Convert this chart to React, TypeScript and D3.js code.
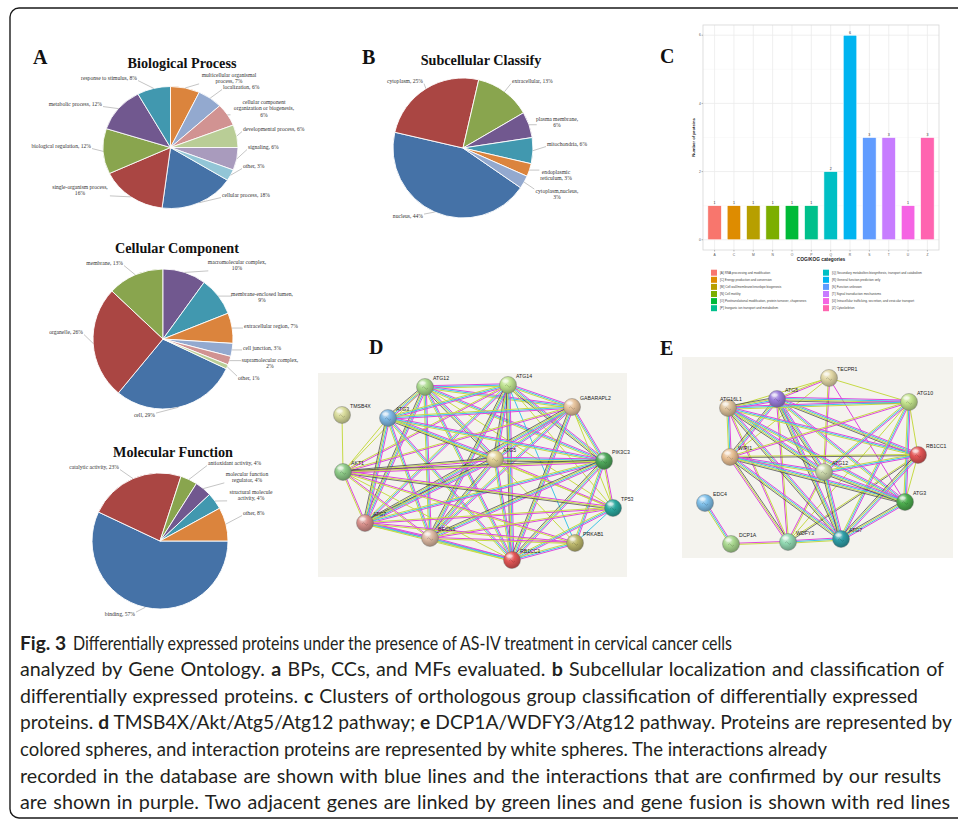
import React, { useLayoutEffect, useRef, useState } from 'react';
import * as d3 from 'd3';

const W = 958, H = 827;

// ================= Panel A / B : pie data =================
const excelColors = ["#4572A7", "#AA4643", "#89A54E", "#71588F", "#4198AF", "#DB843D", "#93A9CF", "#D19392", "#B9CD96", "#A99BBD", "#92C5D6"];

const bpValues = [18, 16, 12, 12, 8, 7, 6, 6, 6, 6, 3];
const bpLabels = [
  ["cellular process, 18%"],
  ["single-organism process,", "16%"],
  ["biological regulation, 12%"],
  ["metabolic process, 12%"],
  ["response to stimulus, 8%"],
  ["multicellular organismal", "process, 7%"],
  ["localization, 6%"],
  ["cellular component", "organization or biogenesis,", "6%"],
  ["developmental process, 6%"],
  ["signaling, 6%"],
  ["other, 3%"],
];

const ccValues = [29, 26, 13, 10, 9, 7, 3, 2, 1];
const ccLabels = [
  ["cell, 29%"],
  ["organelle, 26%"],
  ["membrane, 13%"],
  ["macromolecular complex,", "10%"],
  ["membrane-enclosed lumen,", "9%"],
  ["extracellular region, 7%"],
  ["cell junction, 3%"],
  ["supramolecular complex,", "2%"],
  ["other, 1%"],
];

const mfValues = [57, 23, 4, 4, 4, 8];
const mfLabels = [
  ["binding, 57%"],
  ["catalytic activity, 23%"],
  ["antioxidant activity, 4%"],
  ["molecular function", "regulator, 4%"],
  ["structural molecule", "activity, 4%"],
  ["other, 8%"],
];

const scValues = [44, 25, 13, 6, 6, 3, 3];
const scLabels = [
  ["nucleus, 44%"],
  ["cytoplasm, 25%"],
  ["extracellular, 13%"],
  ["plasma membrane,", "6%"],
  ["mitochondria, 6%"],
  ["endoplasmic", "reticulum, 3%"],
  ["cytoplasm,nucleus,", "3%"],
];

// ================= Panel C : COG/KOG =================
const cogCats = ["A", "C", "M", "N", "O", "P", "Q", "R", "S", "T", "U", "Z"];
const cogCounts = [1, 1, 1, 1, 1, 1, 2, 6, 3, 3, 1, 3];
const cogDesc = [
  "RNA processing and modification",
  "Energy production and conversion",
  "Cell wall/membrane/envelope biogenesis",
  "Cell motility",
  "Posttranslational modification, protein turnover, chaperones",
  "Inorganic ion transport and metabolism",
  "Secondary metabolites biosynthesis, transport and catabolism",
  "General function prediction only",
  "Function unknown",
  "Signal transduction mechanisms",
  "Intracellular trafficking, secretion, and vesicular transport",
  "Cytoskeleton",
];
const cogColors = ["#F8766D", "#DE8C00", "#B79F00", "#7CAE00", "#00BA38", "#00C08B", "#00BFC4", "#00B4F0", "#619CFF", "#C77CFF", "#F564E3", "#FF64B0"];
const cogYTicks = [0, 2, 4, 6];
const cogYMinor = [1, 3, 5];

// ================= Panel D / E : networks =================
const dNodes = ["ATG12", "ATG14", "GABARAPL2", "TMSB4X", "ATG3", "ATG5", "PIK3C3", "AKT1", "TP53", "ATG7", "BECN1", "PRKAB1", "RB1CC1"];
const dNodeX = [107, 190, 254, 24, 70, 177, 286, 25, 295, 47, 112, 257, 194];
const dNodeY = [14, 12, 34, 42, 45, 86, 88, 99, 135, 150, 165, 170, 187];
const dNodeColor = ["#A9D98C", "#BFE38F", "#E6C39C", "#D9DC9C", "#7DB7E3", "#E3D397", "#4FA85B", "#8ECB88", "#2BA89E", "#D9918C", "#DDB9A3", "#BDB86C", "#E35656"];
const dEdges: [string, string, string][] = [
  ["ATG12", "ATG14", "pcy"], ["ATG12", "GABARAPL2", "pcy"], ["ATG12", "ATG3", "pcyk"], ["ATG12", "ATG5", "pcyk"],
  ["ATG12", "PIK3C3", "pcy"], ["ATG12", "AKT1", "y"], ["ATG12", "ATG7", "pcyk"], ["ATG12", "BECN1", "pcy"],
  ["ATG12", "RB1CC1", "pcy"], ["ATG12", "TP53", "y"],
  ["ATG14", "GABARAPL2", "pcy"], ["ATG14", "ATG3", "pcy"], ["ATG14", "ATG5", "pcyk"], ["ATG14", "PIK3C3", "pcyk"],
  ["ATG14", "AKT1", "py"], ["ATG14", "ATG7", "pcy"], ["ATG14", "BECN1", "pcyk"], ["ATG14", "RB1CC1", "pcyk"],
  ["ATG14", "PRKAB1", "c"], ["ATG14", "TP53", "y"],
  ["GABARAPL2", "ATG3", "pcy"], ["GABARAPL2", "ATG5", "pcy"], ["GABARAPL2", "PIK3C3", "pcy"], ["GABARAPL2", "AKT1", "py"],
  ["GABARAPL2", "ATG7", "pcyk"], ["GABARAPL2", "BECN1", "pcy"], ["GABARAPL2", "RB1CC1", "pcyk"], ["GABARAPL2", "TP53", "y"],
  ["TMSB4X", "AKT1", "y"],
  ["ATG3", "ATG5", "pcyk"], ["ATG3", "PIK3C3", "pcy"], ["ATG3", "AKT1", "y"], ["ATG3", "ATG7", "pcyk"],
  ["ATG3", "BECN1", "pcy"], ["ATG3", "RB1CC1", "pcy"], ["ATG3", "TP53", "y"],
  ["ATG5", "PIK3C3", "pcyk"], ["ATG5", "AKT1", "pyk"], ["ATG5", "ATG7", "pcyk"], ["ATG5", "BECN1", "pcyk"],
  ["ATG5", "RB1CC1", "pcy"], ["ATG5", "TP53", "py"], ["ATG5", "PRKAB1", "y"],
  ["PIK3C3", "AKT1", "pyk"], ["PIK3C3", "TP53", "py"], ["PIK3C3", "ATG7", "pcy"], ["PIK3C3", "BECN1", "pcyk"],
  ["PIK3C3", "RB1CC1", "pcyk"], ["PIK3C3", "PRKAB1", "pcy"],
  ["AKT1", "ATG7", "py"], ["AKT1", "BECN1", "py"], ["AKT1", "TP53", "pyk"], ["AKT1", "RB1CC1", "y"], ["AKT1", "PRKAB1", "py"],
  ["TP53", "ATG7", "py"], ["TP53", "BECN1", "py"], ["TP53", "RB1CC1", "pcy"], ["TP53", "PRKAB1", "c"],
  ["ATG7", "BECN1", "pcy"], ["ATG7", "RB1CC1", "pcy"], ["ATG7", "PRKAB1", "py"],
  ["BECN1", "RB1CC1", "pcy"], ["BECN1", "PRKAB1", "py"],
  ["PRKAB1", "RB1CC1", "pcy"],
];

const eNodes = ["TECPR1", "ATG5", "ATG16L1", "ATG10", "WIPI1", "RB1CC1", "ATG12", "EDC4", "ATG3", "DCP1A", "WDFY3", "ATG7"];
const eNodeX = [147, 95, 46, 227, 48, 236, 142, 23, 223, 49, 106, 159];
const eNodeY = [21, 42, 51, 45, 100, 98, 115, 146, 145, 187, 185, 182];
const eNodeColor = ["#E2D8A6", "#9B7DDB", "#DDC19B", "#C3E38C", "#E9C094", "#E35656", "#C9D6A9", "#7FC0EA", "#4DAE4F", "#A9D88F", "#92D9B2", "#2F9FA8"];
const eEdges: [string, string, string][] = [
  ["EDC4", "DCP1A", "pcy"], ["DCP1A", "WDFY3", "py"],
  ["WDFY3", "ATG7", "pcy"], ["WDFY3", "ATG16L1", "py"], ["WDFY3", "ATG5", "py"], ["WDFY3", "WIPI1", "pyk"],
  ["WDFY3", "ATG12", "py"], ["WDFY3", "RB1CC1", "yk"], ["WDFY3", "ATG10", "y"],
  ["TECPR1", "ATG5", "py"], ["TECPR1", "ATG16L1", "y"], ["TECPR1", "ATG10", "y"], ["TECPR1", "ATG12", "py"],
  ["TECPR1", "ATG3", "p"], ["TECPR1", "WIPI1", "y"],
  ["ATG5", "ATG16L1", "pcyk"], ["ATG5", "ATG10", "pcyk"], ["ATG5", "RB1CC1", "pcyk"], ["ATG5", "WIPI1", "pcyk"],
  ["ATG5", "ATG12", "pcyk"], ["ATG5", "ATG3", "pcy"], ["ATG5", "ATG7", "pcyk"],
  ["ATG16L1", "WIPI1", "pcy"], ["ATG16L1", "ATG10", "pcy"], ["ATG16L1", "RB1CC1", "pcy"], ["ATG16L1", "ATG12", "pcyk"],
  ["ATG16L1", "ATG3", "pcy"], ["ATG16L1", "ATG7", "pcyk"],
  ["ATG10", "ATG12", "pcy"], ["ATG10", "ATG3", "pcy"], ["ATG10", "ATG7", "pcy"], ["ATG10", "RB1CC1", "y"], ["ATG10", "WIPI1", "py"],
  ["WIPI1", "RB1CC1", "yk"], ["WIPI1", "ATG12", "pcy"], ["WIPI1", "ATG3", "pcyk"], ["WIPI1", "ATG7", "pcyk"],
  ["RB1CC1", "ATG12", "pcy"], ["RB1CC1", "ATG3", "y"], ["RB1CC1", "ATG7", "pcyk"],
  ["ATG12", "ATG3", "pcyk"], ["ATG12", "ATG7", "pcyk"], ["ATG3", "ATG7", "pcyk"],
];

// ================= Caption =================
const captionHead = "Fig. 3";
const captionLines = [
  "Differentially expressed proteins under the presence of AS-IV treatment in cervical cancer cells",
  "analyzed by Gene Ontology. **a** BPs, CCs, and MFs evaluated. **b** Subcellular localization and classification of",
  "differentially expressed proteins. **c** Clusters of orthologous group classification of differentially expressed",
  "proteins. **d** TMSB4X/Akt/Atg5/Atg12 pathway; **e** DCP1A/WDFY3/Atg12 pathway. Proteins are represented by",
  "colored spheres, and interaction proteins are represented by white spheres. The interactions already",
  "recorded in the database are shown with blue lines and the interactions that are confirmed by our results",
  "are shown in purple. Two adjacent genes are linked by green lines and gene fusion is shown with red lines",
];
const captionStarts = [73, 20, 20, 20, 20, 20, 20];
const captionEnds = [732, 944, 918, 952, 827, 941, 950];

// ================= Layout (not data) =================
type LP = [number, number, string];
const pieLayouts = {
  bp: { cx: 170.5, cy: 147.5, rx: 67.5, ry: 61, start: 122.4, title: "Biological Process", tx: 182, ty: 68,
    pos: [[222, 197, 'start'], [80, 189, 'middle'], [91, 148, 'end'], [102, 106, 'end'], [137, 80, 'end'], [229, 77, 'middle'],
      [223, 89, 'start'], [264, 104, 'middle'], [243, 131, 'start'], [248, 149, 'start'], [243, 168, 'start']] as LP[] },
  cc: { cx: 163, cy: 339, rx: 70, ry: 70, start: 115.2, title: "Cellular Component", tx: 177, ty: 253,
    pos: [[155, 417, 'end'], [83, 334, 'end'], [123, 265, 'end'], [237, 264, 'middle'], [262, 296, 'middle'], [244, 328, 'start'],
      [243, 350, 'start'], [270, 362, 'middle'], [238, 380, 'start']] as LP[] },
  mf: { cx: 160, cy: 541, rx: 68, ry: 68, start: 90, title: "Molecular Function", tx: 173, ty: 457,
    pos: [[135, 616, 'end'], [119, 469, 'end'], [208, 465, 'start'], [247, 476, 'middle'], [251, 494, 'middle'], [243, 515, 'start']] as LP[] },
  sc: { cx: 463, cy: 148, rx: 70, ry: 70, start: 124.6, title: "Subcellular Classify", tx: 481, ty: 65,
    pos: [[423, 218, 'end'], [423, 83, 'end'], [512, 83, 'start'], [557, 121, 'middle'], [547, 146, 'start'], [556, 174, 'middle'], [557, 193, 'middle']] as LP[] },
};

const serif = "'Liberation Serif', 'Times New Roman', serif";
const sans = "'Liberation Sans', Arial, sans-serif";
const capFont = "Lato, 'Noto Sans', sans-serif";
const capSize = 19.2;

function PieChart({ values, labels, L }: any) {
  const a0 = (L.start * Math.PI) / 180;
  const pie = d3.pie<number>().sort(null).value((d) => d).startAngle(a0).endAngle(a0 + 2 * Math.PI);
  const arcs = pie(values);
  const arc = d3.arc<d3.PieArcDatum<number>>().innerRadius(0).outerRadius(L.rx);
  const sy = L.ry / L.rx;
  const fs = 5.6, lh = 6.3;
  return (
    <g>
      <text x={L.tx} y={L.ty} textAnchor="middle" fontFamily={serif} fontWeight="bold" fontSize={14.2} fill="#111">{L.title}</text>
      <g transform={`translate(${L.cx},${L.cy}) scale(1,${sy})`}>
        {arcs.map((a, i) => (
          <path key={i} d={arc(a) || ''} fill={excelColors[i]} stroke="#fff" strokeWidth={0.9} />
        ))}
      </g>
      {arcs.map((a, i) => {
        const m = (a.startAngle + a.endAngle) / 2;
        const ex = L.cx + L.rx * Math.sin(m);
        const ey = L.cy - L.ry * Math.cos(m);
        const [lx, ly, anc] = L.pos[i];
        const lines: string[] = labels[i];
        const w = Math.max(...lines.map((s) => s.length)) * fs * 0.43;
        const x0 = anc === 'start' ? lx : anc === 'end' ? lx - w : lx - w / 2;
        const x1 = x0 + w;
        const y0 = ly - fs * 0.7;
        const y1 = ly + (lines.length - 1) * lh + fs * 0.1;
        const px = Math.max(x0 - 1, Math.min(x1 + 1, ex));
        const py = Math.max(y0, Math.min(y1, ey));
        const dist = Math.hypot(px - ex, py - ey);
        return (
          <g key={i}>
            {dist > 2 && <line x1={px} y1={py} x2={ex} y2={ey} stroke="#8a8a8a" strokeWidth={0.5} />}
            <text x={lx} y={ly} textAnchor={anc as any} fontFamily={serif} fontSize={fs} fill="#333">
              {lines.map((s, j) => (
                <tspan key={j} x={lx} dy={j === 0 ? 0 : lh}>{s}</tspan>
              ))}
            </text>
          </g>
        );
      })}
    </g>
  );
}

function CogChart() {
  const x0 = 703, x1 = 939, yTop = 25, yBot = 250;
  const x = d3.scaleBand<string>().domain(cogCats).range([x0, x1]).paddingInner(0.3).paddingOuter(0.25);
  const y = d3.scaleLinear().domain([-0.3, 6.3]).range([yBot, yTop]);
  const legX = [711, 823];
  const legY0 = 272.7, legDy = 7.1;
  const cx = (c: string) => (x(c) || 0) + x.bandwidth() / 2;
  return (
    <g fontFamily={sans}>
      <rect x={x0} y={yTop} width={x1 - x0} height={yBot - yTop} fill="#fff" />
      {cogYMinor.map((t) => (
        <line key={'m' + t} x1={x0} x2={x1} y1={y(t)} y2={y(t)} stroke="#f4f4f4" strokeWidth={0.5} />
      ))}
      {cogYTicks.map((t) => (
        <line key={'g' + t} x1={x0} x2={x1} y1={y(t)} y2={y(t)} stroke="#ebebeb" strokeWidth={0.8} />
      ))}
      {cogCats.map((c) => (
        <line key={'v' + c} x1={cx(c)} x2={cx(c)} y1={yTop} y2={yBot} stroke="#ebebeb" strokeWidth={0.8} />
      ))}
      {cogCats.map((c, i) => (
        <g key={'b' + c}>
          <rect x={x(c)} y={y(cogCounts[i])} width={x.bandwidth()} height={y(0) - y(cogCounts[i])} fill={cogColors[i]} stroke="#fff" strokeWidth={0.6} />
          <text x={cx(c)} y={y(cogCounts[i]) - 1.2} textAnchor="middle" fontSize={3.6} fill="#333">{cogCounts[i]}</text>
        </g>
      ))}
      <rect x={x0} y={yTop} width={x1 - x0} height={yBot - yTop} fill="none" stroke="#d6d6d6" strokeWidth={0.8} />
      {cogYTicks.map((t) => (
        <g key={'yt' + t}>
          <line x1={x0 - 1.5} x2={x0} y1={y(t)} y2={y(t)} stroke="#555" strokeWidth={0.4} />
          <text x={x0 - 2.2} y={y(t) + 1.1} textAnchor="end" fontSize={3.3} fill="#555">{t}</text>
        </g>
      ))}
      {cogCats.map((c) => (
        <g key={'xt' + c}>
          <line x1={cx(c)} x2={cx(c)} y1={yBot} y2={yBot + 1.5} stroke="#555" strokeWidth={0.4} />
          <text x={cx(c)} y={yBot + 5.5} textAnchor="middle" fontSize={3.3} fill="#555">{c}</text>
        </g>
      ))}
      <text x={(x0 + x1) / 2} y={yBot + 11} textAnchor="middle" fontSize={4.8} fontWeight="bold" fill="#222">COG/KOG categories</text>
      <text transform={`translate(${x0 - 8.5},${(yTop + yBot) / 2}) rotate(-90)`} textAnchor="middle" fontSize={4.2} fontWeight="bold" fill="#222">Number of proteins</text>
      {cogCats.map((c, i) => {
        const col = Math.floor(i / 6), row = i % 6;
        const ky = legY0 + row * legDy;
        return (
          <g key={'l' + c}>
            <rect x={legX[col]} y={ky - 3} width={6} height={6} fill={cogColors[i]} />
            <text x={legX[col] + 9} y={ky + 1.1} fontSize={3.1} fill="#444">{`[${c}] ${cogDesc[i]}`}</text>
          </g>
        );
      })}
    </g>
  );
}

const strandColor: Record<string, string> = { p: "#DE45DE", c: "#3FC4E6", y: "#C6DA45", k: "#3a3a3a" };

function Network({ id, nodes, xs, ys, colors, edges, bx, by, bw, bh, labelLeft }: any) {
  const sx = d3.scaleLinear().domain([0, bw]).range([bx, bx + bw]);
  const sy = d3.scaleLinear().domain([0, bh]).range([by, by + bh]);
  const idx: Record<string, number> = {};
  nodes.forEach((n: string, i: number) => (idx[n] = i));
  const r = 8.5;
  return (
    <g>
      <defs>
        {colors.map((c: string, i: number) => {
          const base = d3.color(c)!;
          return (
            <radialGradient key={i} id={`${id}g${i}`} cx="0.4" cy="0.35" r="0.65" fx="0.35" fy="0.25">
              <stop offset="0" stopColor={d3.interpolateRgb(c, '#ffffff')(0.75)} />
              <stop offset="0.45" stopColor={c} />
              <stop offset="1" stopColor={base.darker(0.9).formatHex()} />
            </radialGradient>
          );
        })}
      </defs>
      <rect x={bx} y={by} width={bw} height={bh} fill="#F4F3EE" />
      {edges.map(([a, b, ch]: [string, string, string], k: number) => {
        const ax = sx(xs[idx[a]]), ay = sy(ys[idx[a]]);
        const bx2 = sx(xs[idx[b]]), by2 = sy(ys[idx[b]]);
        const len = Math.hypot(bx2 - ax, by2 - ay) || 1;
        const nx = -(by2 - ay) / len, ny = (bx2 - ax) / len;
        const n = ch.length;
        return (
          <g key={k}>
            {ch.split('').map((s, j) => {
              const o = (j - (n - 1) / 2) * 1.25;
              return (
                <line key={j} x1={ax + nx * o} y1={ay + ny * o} x2={bx2 + nx * o} y2={by2 + ny * o}
                  stroke={strandColor[s]} strokeWidth={s === 'k' ? 0.7 : 1} />
              );
            })}
          </g>
        );
      })}
      {nodes.map((n: string, i: number) => {
        const cx = sx(xs[i]), cy = sy(ys[i]);
        const left = labelLeft && labelLeft.includes(n);
        return (
          <g key={n}>
            <circle cx={cx} cy={cy} r={r} fill={`url(#${id}g${i})`} stroke="#6b6b6b" strokeWidth={0.4} />
            <ellipse cx={cx - 2.5} cy={cy - 4} rx={3.2} ry={1.8} fill="#fff" opacity={0.45} />
            <path d={`M${cx - 3},${cy + 1} q1.5,-2.5 3,0 t3,0`} fill="none" stroke={d3.color(colors[i])!.darker(1.6).formatHex()} strokeWidth={0.5} opacity={0.7} />
            <text x={left ? cx - 8 : cx + 8} y={cy - 6.8} fontFamily={sans} fontSize={5.2} fill="#222">{n}</text>
          </g>
        );
      })}
    </g>
  );
}

type Adj = { ws: number; tl: number | null };

export default function App() {
  const capY0 = 649.5, capDy = 26.6;
  const capRefs = useRef<(SVGTextElement | null)[]>([]);
  const headRef = useRef<SVGTextElement | null>(null);
  const [adj, setAdj] = useState<Adj[]>(captionLines.map(() => ({ ws: 0, tl: null })));
  const [headTl, setHeadTl] = useState<number | null>(null);

  useLayoutEffect(() => {
    const next = captionLines.map((ln, i) => {
      const el = capRefs.current[i];
      if (!el) return { ws: 0, tl: null };
      const nat = el.getComputedTextLength();
      const target = captionEnds[i] - captionStarts[i];
      const spaces = (ln.replace(/\*\*/g, '').match(/ /g) || []).length || 1;
      if (nat >= target) return { ws: 0, tl: target };
      // share the extra room between word gaps and a slight glyph stretch
      return { ws: (0.45 * (target - nat)) / spaces, tl: target };
    });
    setAdj(next);
    if (headRef.current) {
      const hw = headRef.current.getComputedTextLength();
      if (hw > 49) setHeadTl(49);
    }
  }, []);

  const letter = (t: string, x: number, y: number) => (
    <text x={x} y={y} fontFamily={serif} fontWeight="bold" fontSize={20} fill="#111">{t}</text>
  );
  return (
    <svg width={W} height={H} viewBox={`0 0 ${W} ${H}`} style={{ position: 'absolute', left: 0, top: 0, background: '#fff' }}>
      <rect x={0} y={0} width={W} height={H} fill="#fff" />
      <rect x={10} y={8} width={990} height={810} rx={9} fill="none" stroke="#1a1a1a" strokeWidth={1.4} />

      {letter('A', 33, 64)}
      {letter('B', 362, 64)}
      {letter('C', 660, 63)}
      {letter('D', 369, 354)}
      {letter('E', 660, 355)}

      <PieChart values={bpValues} labels={bpLabels} L={pieLayouts.bp} />
      <PieChart values={ccValues} labels={ccLabels} L={pieLayouts.cc} />
      <PieChart values={mfValues} labels={mfLabels} L={pieLayouts.mf} />
      <PieChart values={scValues} labels={scLabels} L={pieLayouts.sc} />

      <CogChart />

      <Network id="d" nodes={dNodes} xs={dNodeX} ys={dNodeY} colors={dNodeColor} edges={dEdges} bx={318} by={373} bw={309} bh={204} />
      <Network id="e" nodes={eNodes} xs={eNodeX} ys={eNodeY} colors={eNodeColor} edges={eEdges} bx={682} by={357} bw={271} bh={201} labelLeft={["ATG16L1"]} />

      <text ref={headRef} x={20} y={capY0} fontFamily={capFont} fontSize={capSize} fontWeight="bold" fill="#231f20"
        {...(headTl ? { textLength: headTl, lengthAdjust: 'spacingAndGlyphs' } : {})}>{captionHead}</text>
      {captionLines.map((ln, i) => {
        const parts = ln.split('**');
        const a = adj[i];
        return (
          <text key={i} ref={(el) => { capRefs.current[i] = el; }} x={captionStarts[i]} y={capY0 + i * capDy}
            fontFamily={capFont} fontSize={capSize} fill="#231f20" style={{ wordSpacing: `${a.ws}px` }}
            {...(a.tl ? { textLength: a.tl, lengthAdjust: 'spacingAndGlyphs' } : {})}>
            {parts.map((p, j) => (
              <tspan key={j} fontWeight={j % 2 === 1 ? 'bold' : 'normal'}>{p}</tspan>
            ))}
          </text>
        );
      })}
    </svg>
  );
}
